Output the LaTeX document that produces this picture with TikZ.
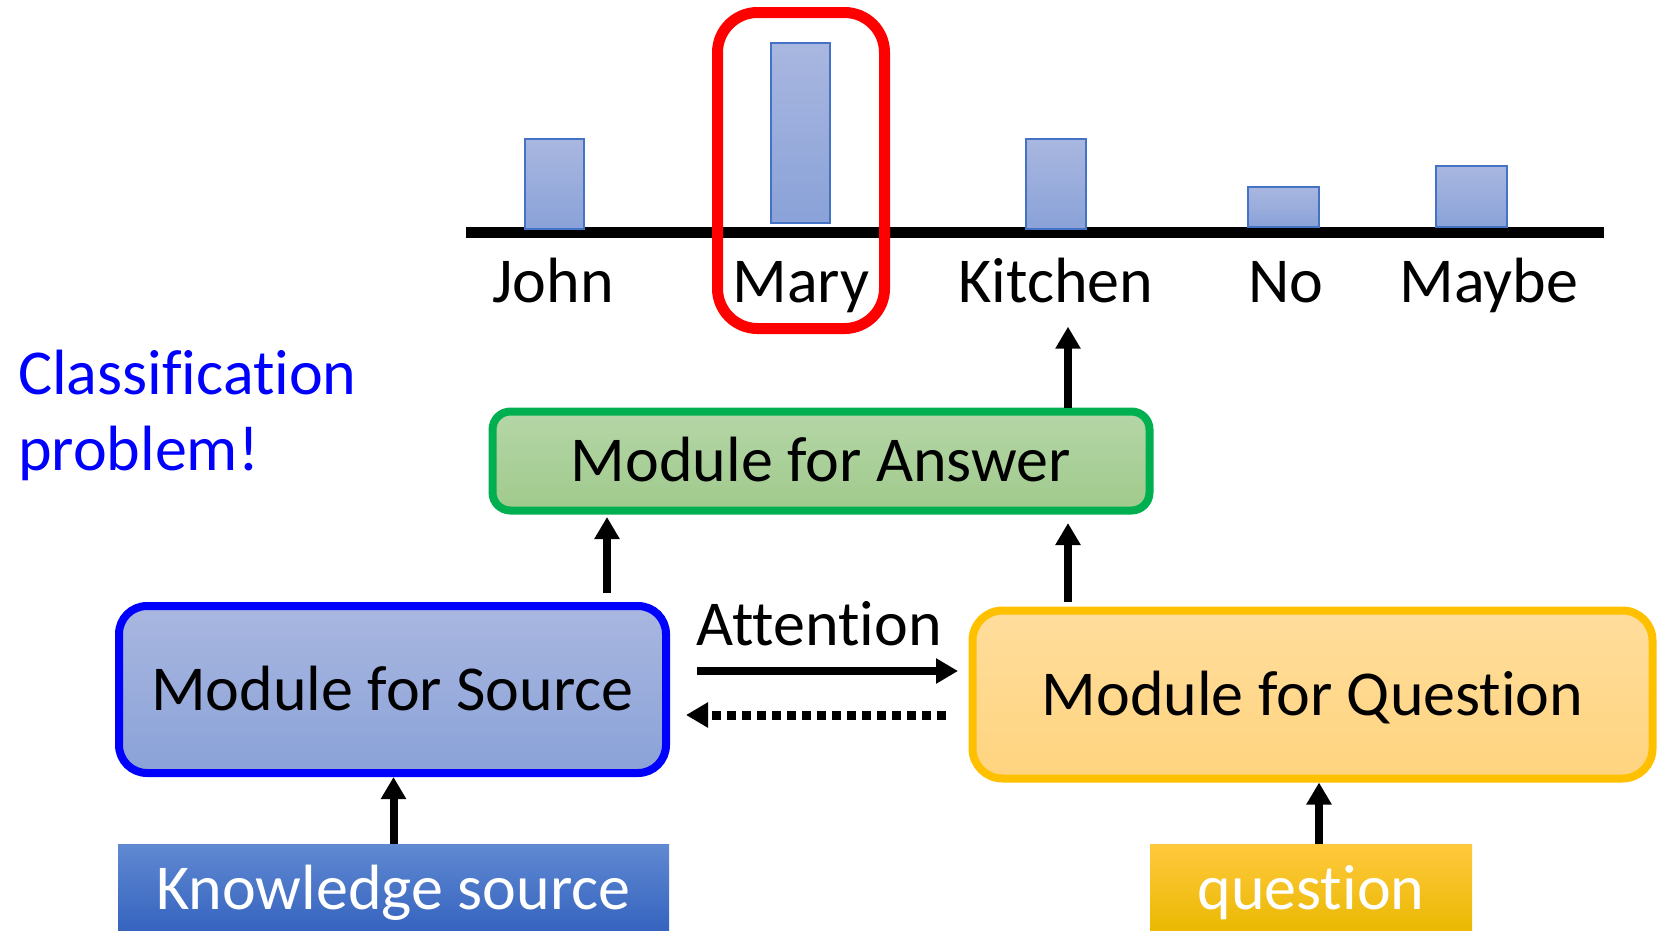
\documentclass[tikz,border=0pt]{standalone}
\usepackage{fontspec}
\setmainfont{Carlito}[Ligatures=NoCommon]
\usetikzlibrary{arrows.meta}

\definecolor{barTop}{HTML}{A9B7E0}
\definecolor{barBot}{HTML}{8AA2D8}
\definecolor{barLine}{HTML}{4472C4}
\definecolor{ansTop}{HTML}{B5D6A7}
\definecolor{ansBot}{HTML}{A0CA8C}
\definecolor{ansLine}{HTML}{00B050}
\definecolor{qstTop}{HTML}{FFDD9C}
\definecolor{qstBot}{HTML}{FFD47F}
\definecolor{qstLine}{HTML}{FFC000}
\definecolor{knowTop}{HTML}{6089D2}
\definecolor{knowBot}{HTML}{3462BE}
\definecolor{qinTop}{HTML}{FFC93E}
\definecolor{qinBot}{HTML}{E9B800}

\begin{document}
\begin{tikzpicture}[x=1pt, y=-1pt, >={Triangle[width=24pt,length=22pt]},
  font=\fontsize{64}{76}\selectfont,
  bar/.style={draw=barLine, line width=1.5pt, top color=barTop, bottom color=barBot},
  module/.style={line width=8pt, inner sep=0pt, text height=41pt, text depth=0pt},
  input/.style={inner sep=0pt, text height=41pt, text depth=0pt, text=white,
    minimum height=90pt},
  arrow/.style={->, line width=8pt}]

\useasboundingbox (0,0) rectangle (1661,930);

\draw [line width=11pt] (466,232) -- (1604,232);

\foreach \xa/\xb/\ya/\yb in {525/584/139/229, 771/830/43/223, 1026/1086/139/229,
    1248/1319/187/227, 1436/1507/166/227}
  \draw [bar] (\xa,\ya) rectangle (\xb,\yb);

\foreach \l/\x [count=\i] in {John/553, Mary/801, Kitchen/1056, No/1286, Maybe/1489}
  \node [anchor=base, inner sep=0pt] (word-\i) at (\x,302) {\l};

\node [draw=red, line width=11pt, rounded corners=40pt, minimum width=167pt,
  minimum height=316pt] (pick) at (801,170.5) {};

\node [anchor=base west, align=left, inner sep=0pt, text=blue] (note) at (18,470)
  {Classification\\problem!};

\node [module, draw=ansLine, top color=ansTop, bottom color=ansBot, rounded corners=18pt,
  minimum width=657pt, minimum height=99pt] (answer) at (821,461) {Module for Answer};
\node [module, draw=blue, top color=barTop, bottom color=barBot, rounded corners=28pt,
  minimum width=547pt, minimum height=167pt] (source) at (392.5,689.5) {Module for Source};
\node [module, draw=qstLine, top color=qstTop, bottom color=qstBot, rounded corners=30pt,
  minimum width=680pt, minimum height=168pt] (question) at (1312.5,694.5) {Module for Question};

\node [input, top color=knowTop, bottom color=knowBot, minimum width=551pt]
  (knowledge) at (393.5,889) {Knowledge source};
\node [input, top color=qinTop, bottom color=qinBot, minimum width=322pt]
  (qin) at (1311,889) {question};

\draw [arrow] (knowledge.north) -- (knowledge.north |- source.south);
\draw [arrow] ([xshift=8]qin.north) -- ([xshift=8]qin.north |- question.south);

\draw [arrow, shorten <=9pt, shorten >=2.5pt] ([xshift=214.5]source.north)
  -- ([xshift=214.5]source.north |- answer.south);
\draw [arrow, shorten <=4.5pt, shorten >=8.5pt] ([xshift=-244.5]question.north)
  -- ([xshift=-244.5]question.north |- answer.south);
\draw [arrow, shorten >=24pt] ([xshift=247]answer.north)
  -- ([xshift=247]answer.north |- word-3.south);

\draw [arrow, shorten <=27pt, shorten >=10.5pt] ([yshift=18.5]source.east)
  -- ([yshift=18.5]source.east -| question.west)
  node [midway, anchor=base, yshift=26pt, inner sep=0pt] (attn) {Attention};
\draw [arrow, line width=9pt, dash pattern=on 9pt off 6pt, shorten <=22.5pt, shorten >=16pt]
  ([yshift=-25.5]source.east -| question.west) -- ([yshift=-25.5]source.east);

\end{tikzpicture}
\end{document}
